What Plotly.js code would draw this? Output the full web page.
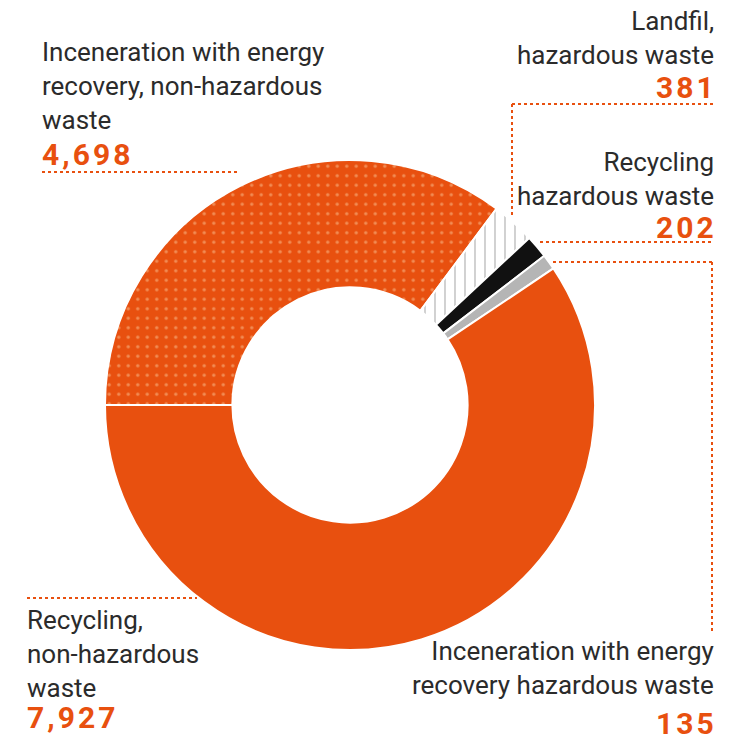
<!DOCTYPE html>
<html><head><meta charset="utf-8">
<script src="https://cdn.plot.ly/plotly-3.0.1.min.js"></script>
<style>html,body{margin:0;padding:0;background:#fff}#c{width:735px;height:740px}</style>
</head><body><div id="c"></div>
<script>
// Data (clockwise order starting at 9 o'clock)
const categories = [
  "Inceneration with energy recovery, non-hazardous waste",
  "Landfil, hazardous waste",
  "Recycling hazardous waste",
  "Inceneration with energy recovery hazardous waste",
  "Recycling, non-hazardous waste"
];
const values = [4698, 381, 202, 135, 7927];
const valueLabels = ["4,698", "381", "202", "135", "7,927"];

const ORANGE = "#E8500F";
const W = 735, H = 740;
const px = x => x / W, py = y => 1 - y / H;

const trace = {
  type: "pie",
  labels: categories,
  values: values,
  sort: false,
  direction: "clockwise",
  rotation: 270,
  hole: 0.48,
  textinfo: "none",
  hoverinfo: "label+value",
  domain: {x: [px(105), px(595)], y: [py(650), py(160)]},
  marker: {
    colors: [ORANGE, "#ffffff", "#111111", "#B5B5B5", ORANGE],
    line: {color: "#ffffff", width: 2},
    pattern: {
      shape: [".", "|", "", "", ""],
      fgcolor: ["#FAC89A", "#666666", "#111111", "#B5B5B5", ORANGE],
      bgcolor: [ORANGE, "#ffffff", "#111111", "#B5B5B5", ORANGE],
      size: [9.5, 10, 8, 8, 8],
      solidity: [0.1, 0.12, 0.2, 0.2, 0.2],
      fillmode: "overlay"
    }
  },
  showlegend: false
};

const txtFont = {family: "Roboto, 'Noto Sans', sans-serif", size: 26, color: "#2b2b2b"};
const numFont = {family: "Roboto, 'Noto Sans', sans-serif", size: 30, color: ORANGE, weight: 900};
function spaced(s){ return s.split("").join("\u200A"); }

const annotations = [];
function label(lines, num, x, yTop, anchor, numY) {
  annotations.push({
    xref: "paper", yref: "paper", x: px(x), y: py(yTop),
    xanchor: anchor, yanchor: "top", align: anchor,
    text: lines.join("<br>"), showarrow: false, font: txtFont
  });
  annotations.push({
    xref: "paper", yref: "paper", x: px(x), y: py(numY),
    xanchor: anchor, yanchor: "middle", align: anchor,
    text: "<b>" + spaced(num) + "</b>", showarrow: false, font: numFont
  });
}
label(["Inceneration with energy", "recovery, non-hazardous", "waste"], valueLabels[0], 40, 35, "left", 155);
label(["Landfil,", "hazardous waste"], valueLabels[1], 716, 4, "right", 87);
label(["Recycling", "hazardous waste"], valueLabels[2], 716, 145, "right", 228);
label(["Inceneration with energy", "recovery hazardous waste"], valueLabels[3], 716, 634, "right", 723);
label(["Recycling,", "non-hazardous", "waste"], valueLabels[4], 25, 603, "left", 717);

const dl = {color: ORANGE, width: 2, dash: "dot"};
function seg(x0, y0, x1, y1) {
  return {type: "line", xref: "paper", yref: "paper", x0: px(x0), y0: py(y0), x1: px(x1), y1: py(y1), line: dl};
}
const shapes = [
  seg(42, 172, 237, 172),
  seg(512, 104, 715, 104), seg(512, 104, 512, 215),
  seg(540, 242, 712, 242),
  seg(553, 262, 712, 262), seg(712, 262, 712, 632),
  seg(27, 598, 197, 598)
];

Plotly.newPlot("c", [trace], {
  width: W, height: H,
  margin: {l: 0, r: 0, t: 0, b: 0},
  paper_bgcolor: "#fff", plot_bgcolor: "#fff",
  annotations: annotations, shapes: shapes
}, {displayModeBar: false, staticPlot: true});
</script></body></html>
